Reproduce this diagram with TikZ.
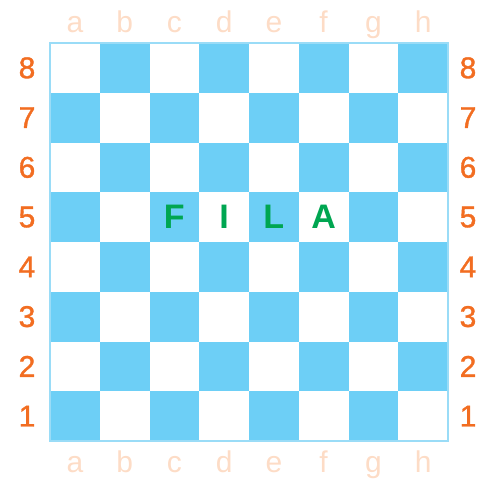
\documentclass[tikz,border=0pt]{standalone}
\usepackage{fontspec}
\setmainfont{Liberation Sans}
\newfontfamily\medsans[BoldFont=Liberation Sans,BoldFeatures={FakeBold=1.2}]{Liberation Sans}
\definecolor{sqblue}{HTML}{6DCFF6}
\definecolor{numorange}{HTML}{F26D21}
\definecolor{letpeach}{HTML}{FDDCC6}
\definecolor{filagreen}{HTML}{00A651}
\definecolor{edgeblue}{HTML}{9ADCF7}
\tikzset{
  bluesq/.style={fill=sqblue,draw=none},
  numlab/.style={text=numorange,font=\fontsize{30}{30}\medsans\bfseries,inner sep=0pt},
  letlab/.style={text=letpeach,font=\fontsize{30}{30}\selectfont,inner sep=0pt,anchor=base},
  filalab/.style={text=filagreen,font=\fontsize{34}{34}\selectfont\bfseries,inner sep=0pt},
  boardedge/.style={draw=edgeblue,line width=1.2pt}
}
\begin{document}
\begin{tikzpicture}[x=1pt,y=-1pt]
\useasboundingbox (0,0) rectangle (481,479);
\def\sq{49.75}
\def\ox{50}
\def\oy{43}
\foreach \i in {1,...,8}{
  \foreach \r in {1,...,8}{
    \pgfmathparse{int(mod(\i+\r,2))}
    \ifnum\pgfmathresult=0
      \fill[bluesq] ({\ox+(\i-1)*\sq},{\oy+(8-\r)*\sq}) rectangle ++(\sq,\sq);
    \fi
  }
}
\draw[boardedge] (\ox,\oy) rectangle ({\ox+8*\sq},{\oy+8*\sq});
\foreach \r in {1,...,8}{
  \node[numlab] (L\r) at (27,{\oy+(8.5-\r)*\sq}) {\r};
  \node[numlab] (R\r) at (468,{\oy+(8.5-\r)*\sq}) {\r};
}
\foreach \l [count=\i] in {a,b,c,d,e,f,g,h}{
  \node[letlab] (T\l) at ({\ox+(\i-0.5)*\sq},32) {\l};
  \node[letlab] (B\l) at ({\ox+(\i-0.5)*\sq},472) {\l};
}
\node[filalab] (F) at ({\ox+2.5*\sq},{\oy+3.5*\sq}) {F};
\node[filalab] (I) at ({\ox+3.5*\sq},{\oy+3.5*\sq}) {I};
\node[filalab] (Lf) at ({\ox+4.5*\sq},{\oy+3.5*\sq}) {L};
\node[filalab] (A) at ({\ox+5.5*\sq},{\oy+3.5*\sq}) {A};
\end{tikzpicture}
\end{document}
